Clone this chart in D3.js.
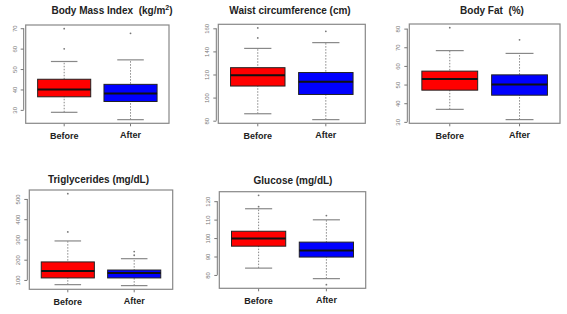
<!DOCTYPE html>
<html>
<head>
<meta charset="utf-8">
<script src="https://cdn.jsdelivr.net/npm/d3@7"></script>
<style>
  body { margin: 0; background: #fff; }
  svg { display: block; }
</style>
</head>
<body>
<svg id="chart"></svg>
<script>
// groups on the x axis
const groups = ["Before", "After"];

// box stats: [lower whisker, q1, median, q3, upper whisker]
const bmiBefore = [28.8, 36.4, 40, 45, 53.7];
const bmiAfter = [25.2, 34.1, 38, 42.5, 54.5];
const bmiOutBefore = [59.9, 69.8];
const bmiOutAfter = [67.5];
const bmiTicks = [30, 40, 50, 60, 70];

const waistBefore = [86, 110, 119.4, 125.9, 142.6];
const waistAfter = [80.9, 102.7, 113.8, 121.7, 147.6];
const waistOutBefore = [151.7, 160.3];
const waistOutAfter = [157.4];
const waistTicks = [80, 100, 120, 140, 160];

const fatBefore = [36.7, 47, 53, 57.2, 68.2];
const fatAfter = [31.2, 44.3, 50, 55.2, 66.7];
const fatOutBefore = [80.5];
const fatOutAfter = [74];
const fatTicks = [30, 40, 50, 60, 70, 80];

const trigBefore = [76.8, 110, 144, 189, 292.6];
const trigAfter = [72, 110, 134, 149, 205];
const trigOutBefore = [337, 526];
const trigOutAfter = [222, 240];
const trigTicks = [100, 200, 300, 400, 500];

const glucBefore = [83.7, 95.6, 99.8, 103.7, 115.9];
const glucAfter = [78, 89.7, 93.3, 97.8, 109.9];
const glucOutBefore = [117, 123.2];
const glucOutAfter = [74.7, 112.2];
const glucTicks = [80, 90, 100, 110, 120];

class BoxPanel {

    constructor( config, stats, outliers, ticks ) {
        this.config = {
            parent: config.parent,
            title: config.title,
            titleX: config.titleX,
            titleY: config.titleY,
            left: config.left,
            top: config.top,
            width: config.width,
            height: config.height
        }
        this.stats = stats;
        this.outliers = outliers;
        this.ticks = ticks;
        this.init();
    }

    init() {
        let self = this;

        self.chart = self.config.parent.append('g')
            .attr('transform', `translate(${self.config.left}, ${self.config.top})`);

        self.xscale = d3.scaleBand()
            .domain( groups )
            .range( [0, self.config.width] )
            .paddingInner(0.2)
            .paddingOuter(0.18);

        // R style: 4% padding on the data range
        const all = self.stats.flat().concat( self.outliers.flat() );
        const lo = d3.min(all), hi = d3.max(all);
        const pad = (hi - lo) * 0.04;
        self.yscale = d3.scaleLinear()
            .domain( [lo - pad, hi + pad] )
            .range( [self.config.height, 0] );

        self.config.parent.append('text')
            .attr('x', self.config.titleX)
            .attr('y', self.config.titleY)
            .attr('text-anchor', 'middle')
            .attr('font-family', 'Liberation Sans, Arial, sans-serif')
            .attr('font-weight', 'bold')
            .attr('font-size', '10px')
            .attr('fill', '#222')
            .html(self.config.title);
    }

    render() {
        let self = this;
        const bw = self.xscale.bandwidth();
        const y = self.yscale;
        const boxes = groups.map((g, i) => ({ g: g, s: self.stats[i], out: self.outliers[i], color: i == 0 ? '#ff0000' : '#0000ff' }));

        // y axis, drawn a little left of the frame
        const yaxis = d3.axisLeft( y )
            .tickValues( self.ticks )
            .tickSize(3)
            .tickFormat(d3.format('d'));
        const yg = self.chart.append('g')
            .attr('transform', 'translate(-2,0)')
            .call( yaxis );
        yg.select('.domain')
            .attr('d', `M0,${y(self.ticks[0])}V${y(self.ticks[self.ticks.length-1])}`)
            .attr('stroke', '#777');
        yg.selectAll('.tick line').attr('stroke', '#777');
        yg.selectAll('.tick text')
            .attr('x', 0).attr('dy', null)
            .attr('text-anchor', 'middle')
            .attr('dominant-baseline', 'central')
            .attr('transform', 'translate(-9,0) rotate(-90)')
            .attr('font-family', 'Liberation Sans, Arial, sans-serif')
            .attr('font-size', '6px')
            .attr('fill', '#777');

        // x ticks and labels
        const xg = self.chart.append('g')
            .attr('transform', `translate(0, ${self.config.height})`);
        xg.selectAll('line')
            .data(groups)
            .join('line')
            .attr('x1', d => self.xscale(d) + bw/2)
            .attr('x2', d => self.xscale(d) + bw/2)
            .attr('y1', 0).attr('y2', 3)
            .attr('stroke', '#777');
        xg.selectAll('text')
            .data(groups)
            .join('text')
            .attr('x', d => self.xscale(d) + bw/2)
            .attr('y', (d, i) => i == 0 ? 16 : 14.5)
            .attr('text-anchor', 'middle')
            .attr('font-family', 'Liberation Sans, Arial, sans-serif')
            .attr('font-weight', 'bold')
            .attr('font-size', '9px')
            .attr('fill', '#222')
            .text(d => d);

        const bg = self.chart.selectAll('g.box')
            .data(boxes)
            .join('g')
            .attr('class', 'box')
            .attr('transform', d => `translate(${self.xscale(d.g)}, 0)`);

        // whiskers
        bg.append('line')
            .attr('x1', bw/2).attr('x2', bw/2)
            .attr('y1', d => y(d.s[0])).attr('y2', d => y(d.s[4]))
            .attr('stroke', '#888')
            .attr('stroke-dasharray', '1.5,1.5');
        bg.selectAll('line.cap')
            .data(d => [d.s[0], d.s[4]])
            .join('line')
            .attr('class', 'cap')
            .attr('x1', bw/4).attr('x2', bw*3/4)
            .attr('y1', d => y(d)).attr('y2', d => y(d))
            .attr('stroke', '#888')
            .attr('stroke-width', 1.2);

        bg.append('rect')
            .attr('x', 0)
            .attr('y', d => y(d.s[3]))
            .attr('width', bw)
            .attr('height', d => y(d.s[1]) - y(d.s[3]))
            .attr('fill', d => d.color)
            .attr('stroke', '#222')
            .attr('stroke-width', 1);

        bg.append('line')
            .attr('x1', 0).attr('x2', bw)
            .attr('y1', d => y(d.s[2])).attr('y2', d => y(d.s[2]))
            .attr('stroke', '#111')
            .attr('stroke-width', 2);

        bg.selectAll('circle')
            .data(d => d.out)
            .join('circle')
            .attr('cx', bw/2)
            .attr('cy', d => y(d))
            .attr('r', 0.9)
            .attr('fill', '#777');

        // frame
        self.chart.append('rect')
            .attr('width', self.config.width)
            .attr('height', self.config.height)
            .attr('fill', 'none')
            .attr('stroke', '#888')
            .attr('stroke-width', 1.2);
    }
}

const svg = d3.select('#chart')
    .attr('width', 567)
    .attr('height', 314);

const panels = [
    new BoxPanel({ parent: svg, title: 'Body Mass Index&#160; (kg/m<tspan dy="-4" font-size="7px">2</tspan><tspan dy="4">)</tspan>', titleX: 112, titleY: 13.5, left: 25.7, top: 25, width: 143.3, height: 98.3 },
        [bmiBefore, bmiAfter], [bmiOutBefore, bmiOutAfter], bmiTicks),
    new BoxPanel({ parent: svg, title: 'Waist circumference (cm)', titleX: 290, titleY: 13.5, left: 218.3, top: 24.3, width: 147, height: 99 },
        [waistBefore, waistAfter], [waistOutBefore, waistOutAfter], waistTicks),
    new BoxPanel({ parent: svg, title: 'Body Fat&#160; (%)', titleX: 492, titleY: 13.5, left: 409.3, top: 24, width: 150.7, height: 99.3 },
        [fatBefore, fatAfter], [fatOutBefore, fatOutAfter], fatTicks),
    new BoxPanel({ parent: svg, title: 'Triglycerides (mg/dL)', titleX: 98.5, titleY: 183, left: 29.3, top: 190, width: 143.4, height: 99.3 },
        [trigBefore, trigAfter], [trigOutBefore, trigOutAfter], trigTicks),
    new BoxPanel({ parent: svg, title: 'Glucose (mg/dL)', titleX: 293, titleY: 183.5, left: 219.3, top: 191.7, width: 146.4, height: 96.6 },
        [glucBefore, glucAfter], [glucOutBefore, glucOutAfter], glucTicks)
];
panels.forEach(p => p.render());
</script>
</body>
</html>
